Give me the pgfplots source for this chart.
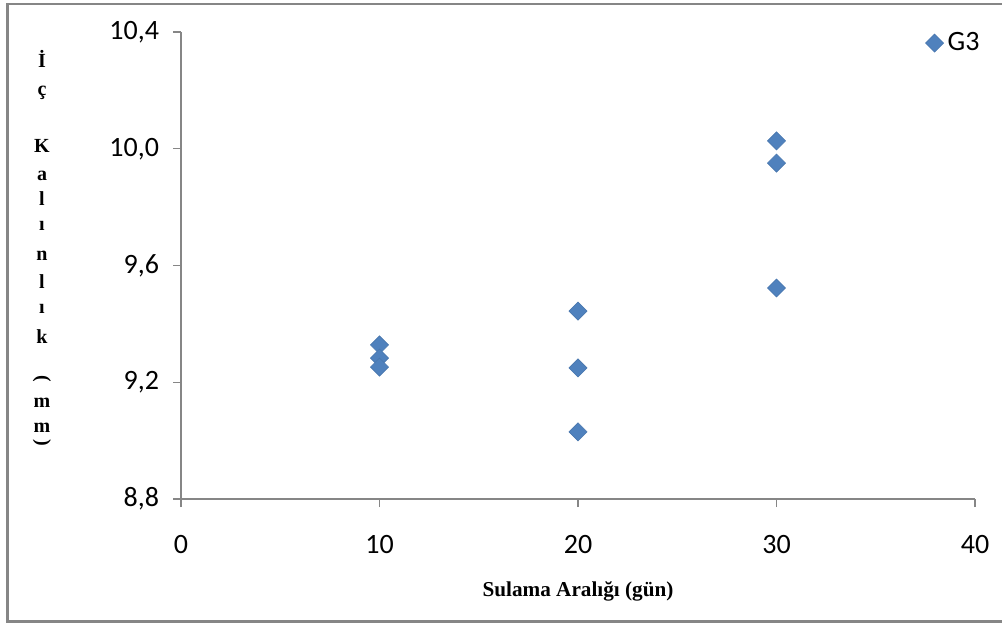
\documentclass[border=0pt]{standalone}
\usepackage{pgfplots}
\pgfplotsset{compat=1.18}
\usepackage{fontspec}
\setmainfont{Carlito}
\newfontfamily\timesfont{Liberation Serif}
\definecolor{xlblue}{RGB}{79,129,189}
\definecolor{axgray}{RGB}{134,134,134}
\begin{document}
\begin{tikzpicture}
\path[use as bounding box] (0,0) rectangle (501pt,311.5pt);
\draw[axgray, line width=1.25pt] (502pt,309.5pt) -- (3.75pt,309.5pt) -- (3.75pt,0.75pt) -- (502pt,0.75pt);
\begin{axis}[
  at={(90.5pt,62pt)}, anchor=south west,
  scale only axis, width=397pt, height=233.5pt,
  xmin=0, xmax=40, ymin=8.8, ymax=10.4,
  xtick={0,10,20,30,40}, ytick={8.8,9.2,9.6,10.0,10.4},
  axis lines*=left,
  axis line style={axgray, line width=0.6pt},
  tick style={axgray, line width=0.6pt},
  tick align=outside, major tick length=4pt,
  /pgf/number format/assume math mode=true,
  ticklabel style={font=\fontsize{14}{16.8}\selectfont},
  yticklabel style={xshift=-3.5pt, /pgf/number format/.cd, fixed, fixed zerofill, precision=1, use comma},
  xticklabel style={yshift=-10.5pt, /pgf/number format/.cd, fixed, precision=0},
  xlabel={\timesfont\bfseries\fontsize{10.6}{12}\selectfont Sulama Aralığı (gün)},
  xlabel style={at={(axis description cs:0.5,0)}, anchor=base, yshift=-48.5pt},
  legend style={at={(axis cs:40.75,10.362)}, anchor=east, draw=none, fill=none,
    font=\fontsize{14}{16.8}\selectfont},
  legend cell align=left,
]
\addplot[only marks, mark=square*, mark size=3.2pt,
  mark options={rotate=45, fill=xlblue, draw=xlblue!92!black, line width=0.3pt}]
  coordinates {
  (10,9.328) (10,9.283) (10,9.252)
  (20,9.444) (20,9.249) (20,9.030)
  (30,10.027) (30,9.951) (30,9.523)
  };
\addlegendentry{G3}
\end{axis}
\begin{scope}[every node/.style={font=\timesfont\bfseries\fontsize{10}{12}\selectfont, inner sep=0pt}]
\node[anchor=base] at (21pt,278pt) {İ};
\node[anchor=base] at (21pt,264pt) {ç};
\node[anchor=base] at (21pt,235.25pt) {K};
\node[anchor=base] at (21pt,221.5pt) {a};
\node[anchor=base] at (21pt,209pt) {l};
\node[anchor=base] at (21pt,196.5pt) {ı};
\node[anchor=base] at (21pt,181.5pt) {n};
\node[anchor=base] at (21pt,167.5pt) {l};
\node[anchor=base] at (21pt,155pt) {ı};
\node[anchor=base] at (21pt,140pt) {k};
\node[rotate=-90] at (21pt,122pt) {(};
\node[anchor=base] at (21pt,108pt) {m};
\node[anchor=base] at (21pt,95.5pt) {m};
\node[rotate=-90] at (21pt,90pt) {)};
\end{scope}
\end{tikzpicture}
\end{document}
